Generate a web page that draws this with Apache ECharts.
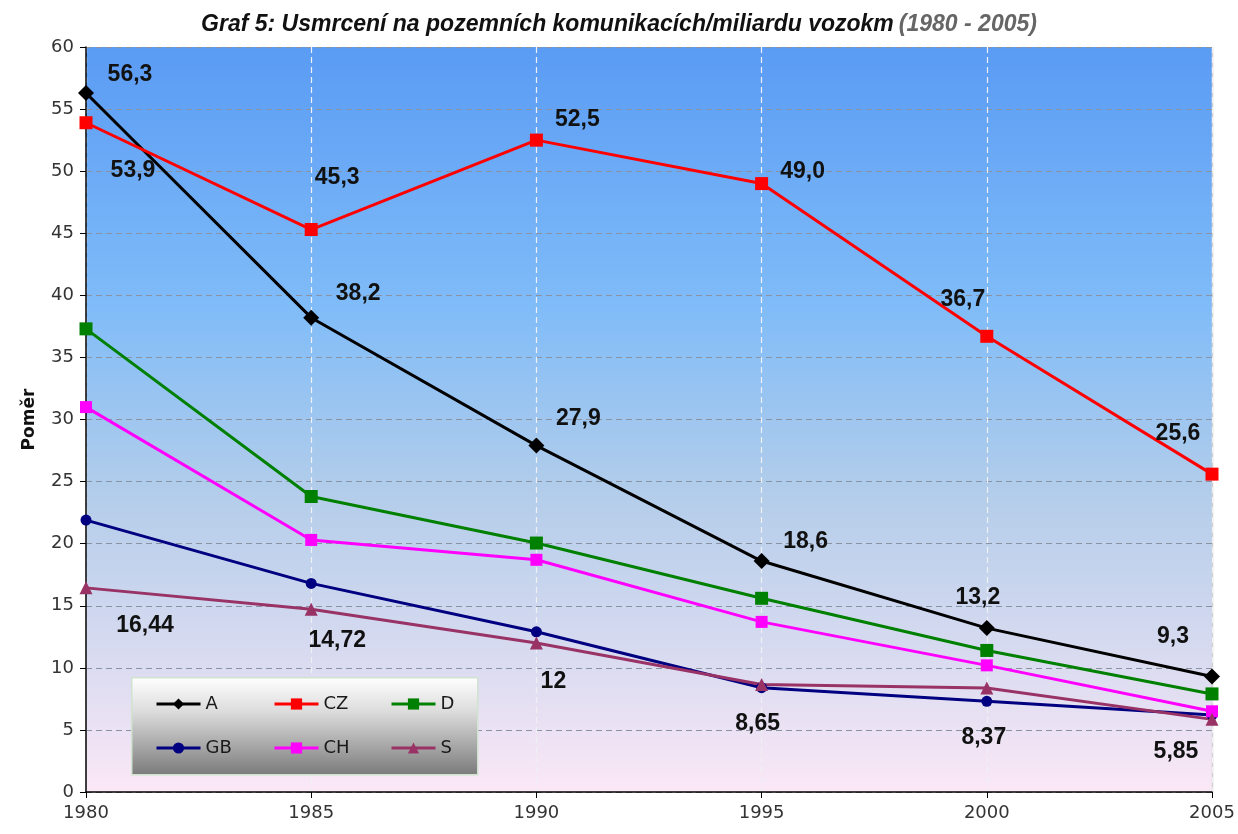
<!DOCTYPE html>
<html>
<head>
<meta charset="utf-8">
<script src="https://cdn.jsdelivr.net/npm/echarts@6/dist/echarts.min.js"></script>
<style>html,body{margin:0;padding:0;background:#fff;}#c{width:1238px;height:834px;}</style>
</head>
<body>
<div id="c"></div>
<script>
var years = ['1980','1985','1990','1995','2000','2005'];
var yTicks = [0,5,10,15,20,25,30,35,40,45,50,55,60];
var valA  = [56.3, 38.2, 27.9, 18.6, 13.2, 9.3];
var valCZ = [53.9, 45.3, 52.5, 49.0, 36.7, 25.6];
var valD  = [37.3, 23.8, 20.05, 15.6, 11.4, 7.9];
var valGB = [21.9, 16.8, 12.9, 8.4, 7.3, 6.2];
var valCH = [31.0, 20.3, 18.7, 13.7, 10.2, 6.5];
var valS  = [16.44, 14.72, 12, 8.65, 8.37, 5.85];
var textA  = ['56,3','38,2','27,9','18,6','13,2','9,3'];
var textCZ = ['53,9','45,3','52,5','49,0','36,7','25,6'];
var textS  = ['16,44','14,72','12','8,65','8,37','5,85'];

// label offsets (style, not data)
var offA  = [[44,-18],[47,-24],[42,-27],[44,-19],[-9,-30],[-39,-40]];
var offCZ = [[47,48],[26,-52],[41,-20],[41,-12],[-24,-37],[-34,-40]];
var offS  = [[59,38],[26,31],[17,39],[-4,39],[-3,50],[-36,32]];

var labelFont = {fontFamily:'Liberation Sans, Arial', fontWeight:'bold', fontSize:23, color:'#111'};

function withLabels(vals, texts, offs){
  return vals.map(function(v,i){
    return {value:v, label:Object.assign({show:true, position:'inside', offset:offs[i],
      formatter:texts[i]}, labelFont)};
  });
}

function mk(name, color, symbol, size, data){
  return {name:name, type:'line', data:data, symbol:symbol, symbolSize:size,
    lineStyle:{color:color, width:3}, itemStyle:{color:color}, color:color,
    label:{show:false}, animation:false, z:3};
}

var chart = echarts.init(document.getElementById('c'));
var legendText = {fontFamily:'DejaVu Sans', fontSize:18, color:'#1a1a1a'};
function lg(names, left){
  return {data:names, orient:'vertical', left:left, top:690, itemGap:26, itemWidth:44, itemHeight:14,
    textStyle:legendText, selectedMode:false, lineStyle:{width:3}, itemStyle:{}};
}
chart.setOption({
  backgroundColor:'#fff',
  title:{
    text:'{a|Graf 5: Usmrcení na pozemních komunikacích/miliardu vozokm} {b|(1980 - 2005)}',
    left:'center', top:8,
    textStyle:{rich:{
      a:{fontFamily:'Liberation Sans, Arial', fontStyle:'italic', fontSize:23, color:'#111'},
      b:{fontFamily:'Liberation Sans, Arial', fontStyle:'italic', fontSize:23, color:'#666'}
    }}
  },
  graphic:[{
    type:'rect', left:131, top:677, z:1,
    shape:{width:346, height:97},
    style:{fill:new echarts.graphic.LinearGradient(0,0,0,1,[
      {offset:0,color:'#ffffff'},{offset:0.35,color:'#dcdcdc'},{offset:1,color:'#7a7a7a'}]),
      stroke:'#cfe3cf', lineWidth:1.5}
  },{
    type:'line', z:0, shape:{x1:1212.5, y1:47, x2:1212.5, y2:792},
    style:{stroke:'#d0d0d0', lineWidth:1.5}
  }],
  legend:[lg(['A','GB'],150), lg(['CZ','CH'],268), lg(['D','S'],385)],
  grid:{left:86, right:26, top:47, bottom:42, show:true, borderWidth:0,
    backgroundColor:new echarts.graphic.LinearGradient(0,0,0,1,[
      {offset:0,color:'#5a9bf4'},{offset:0.35,color:'#80bcf8'},
      {offset:0.6,color:'#b3cdea'},{offset:0.82,color:'#d9dbf0'},{offset:1,color:'#fbe8f6'}])},
  xAxis:{type:'category', data:years, boundaryGap:false,
    axisLine:{lineStyle:{color:'#000', width:1.5}},
    axisTick:{show:true, alignWithLabel:true, length:6, lineStyle:{color:'#000'}},
    axisLabel:{fontFamily:'DejaVu Sans', fontSize:18, color:'#333', margin:12},
    splitLine:{show:true, lineStyle:{color:'#eef0f4', type:[6,4], width:1.2}}
  },
  yAxis:{type:'value', min:0, max:60, interval:5,
    name:'Poměr', nameLocation:'middle', nameGap:48, nameRotate:90,
    nameTextStyle:{fontFamily:'DejaVu Sans', fontWeight:'bold', fontSize:17, color:'#111'},
    axisLine:{show:true, lineStyle:{color:'#000', width:1.5}},
    axisTick:{show:true, length:6, lineStyle:{color:'#000'}},
    axisLabel:{fontFamily:'DejaVu Sans', fontSize:18, color:'#333', margin:12,
      formatter:function(v){return yTicks.indexOf(v)>=0 ? String(v) : '';}},
    splitLine:{show:true, lineStyle:{color:'#8a93a3', type:[6,4], width:1.2}}
  },
  series:[
    mk('A','#000000','diamond',16, withLabels(valA,textA,offA)),
    mk('CZ','#ff0000','rect',13, withLabels(valCZ,textCZ,offCZ)),
    mk('D','#008000','rect',13, valD),
    mk('GB','#000080','circle',11, valGB),
    mk('CH','#ff00ff','rect',12, valCH),
    mk('S','#993366','triangle',13, withLabels(valS,textS,offS))
  ]
});
</script>
</body>
</html>
